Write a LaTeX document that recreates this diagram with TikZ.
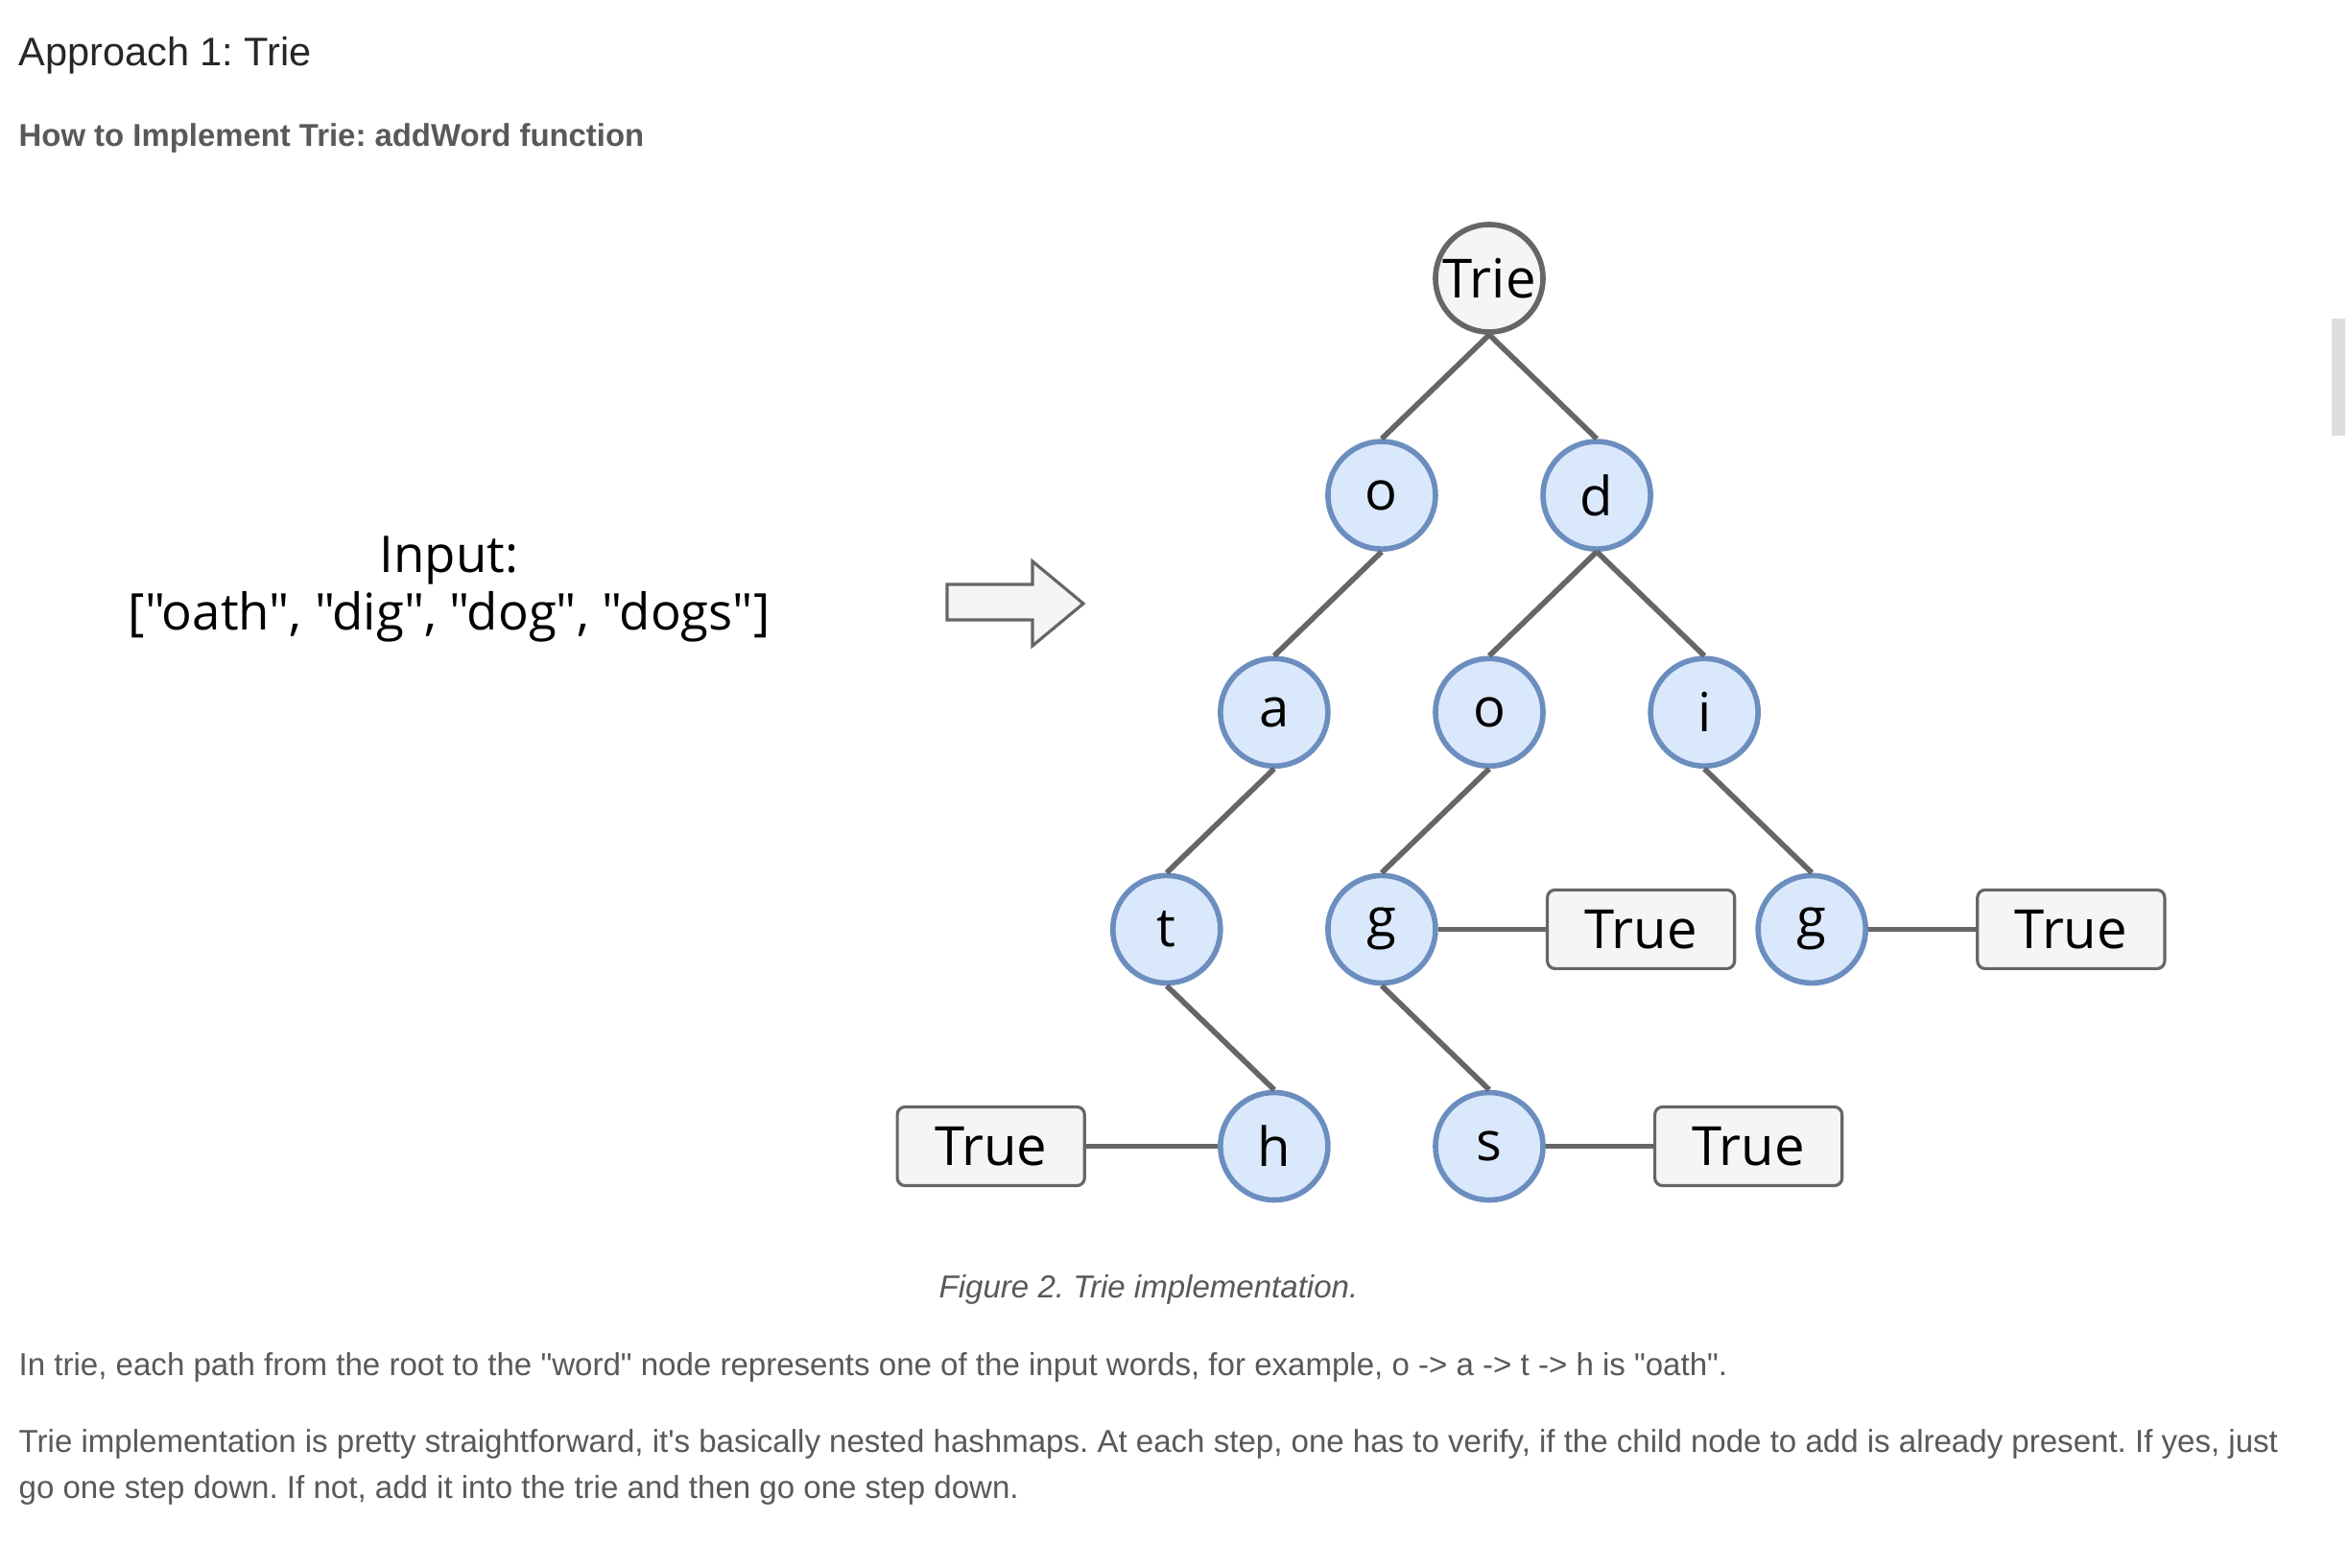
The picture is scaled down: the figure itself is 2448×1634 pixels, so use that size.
\documentclass[tikz,border=0pt]{standalone}
\usepackage{fontspec}
\newfontfamily\pagefont{Liberation Sans}
\newfontfamily\sketchfont{Open Sans}
\usepackage{tikz}
\usetikzlibrary{shapes,arrows,positioning}
\definecolor{nodeblue}{HTML}{DAE8FC}
\definecolor{nodeedge}{HTML}{6C8EBF}
\definecolor{boxgray}{HTML}{F5F5F5}
\definecolor{linegray}{HTML}{666666}
\definecolor{textgray}{HTML}{595959}
\definecolor{scrollgray}{HTML}{DDDDDD}
\tikzstyle{letter} = [draw=nodeedge, fill=nodeblue, circle, line width=1.6pt,
minimum size=1.12cm, inner sep=0pt, font=\sketchfont\fontsize{16}{16}\selectfont]
\tikzstyle{root} = [letter, draw=linegray, fill=boxgray]
\tikzstyle{flag} = [draw=linegray, fill=boxgray, rectangle, rounded corners=0.08cm,
line width=0.9pt, minimum height=0.82cm, minimum width=1.95cm, font=\sketchfont\fontsize{16}{16}\selectfont]
\tikzstyle{link} = [draw=linegray, line width=1.6pt]
\tikzstyle{page} = [anchor=base west, inner sep=0pt, text=textgray, font=\pagefont\frenchspacing\fontsize{9.4}{11}\selectfont]

\begin{document}
\begin{tikzpicture}[x=0.01cm, y=-0.01cm, node distance=2.26cm and 1.12cm, on grid]
		\useasboundingbox[fill=white] (0,0) rectangle (2448,1634);
		\node(title)[page, text=black!85, font=\pagefont\frenchspacing\fontsize{11.8}{13}\selectfont] at (19,69) {Approach 1: Trie};
		\node(subtitle)[page, font=\pagefont\frenchspacing\bfseries\fontsize{9.35}{11}\selectfont] at (19,153) {How to Implement Trie: addWord function};
		
		\node(input)[align=center, font=\sketchfont\fontsize{15}{16.8}\selectfont] at (468,614) {Input:\\{}["oath", "dig", "dog", "dogs"]};
		\filldraw[fill=boxgray, draw=linegray, line width=0.9pt, line join=miter]
		(987,609) -- (1076,609) -- (1076,585) -- (1129,629) -- (1076,673) -- (1076,646) -- (987,646) -- cycle;
		
		\node(trie)[root] at (1552,290) {Trie};
		\node(o)[letter, below left=of trie]{o};
		\node(d)[letter, below right=of trie]{d};
		\node(a)[letter, below left=of o]{a};
		\node(o2)[letter, below left=of d]{o};
		\node(i)[letter, below right=of d]{i};
		\node(t)[letter, below left=of a]{t};
		\node(g)[letter, below left=of o2]{g};
		\node(g2)[letter, below right=of i]{g};
		\node(h)[letter, below right=of t]{h};
		\node(s)[letter, below right=of g]{s};
		
		\node(hend)[flag, left=2.95cm of h]{True};
		\node(gend)[flag, right=2.7cm of g]{True};
		\node(g2end)[flag, right=2.7cm of g2]{True};
		\node(send)[flag, right=2.7cm of s]{True};
		
		\draw[link] (trie.south) -- (o.north);
		\draw[link] (trie.south) -- (d.north);
		\draw[link] (o.south) -- (a.north);
		\draw[link] (a.south) -- (t.north);
		\draw[link] (t.south) -- (h.north);
		\draw[link] (d.south) -- (o2.north);
		\draw[link] (d.south) -- (i.north);
		\draw[link] (o2.south) -- (g.north);
		\draw[link] (g.south) -- (s.north);
		\draw[link] (i.south) -- (g2.north);
		\draw[link] (h) -- (hend);
		\draw[link] (g) -- (gend);
		\draw[link] (g2) -- (g2end);
		\draw[link] (s) -- (send);
		
		\node(caption)[anchor=base, inner sep=0pt, text=textgray, font=\pagefont\frenchspacing\itshape\fontsize{9.4}{11}\selectfont] at (1197,1352) {Figure 2. Trie implementation.};
		\node(para)[page] at (19,1433) {In trie, each path from the root to the "word" node represents one of the input words, for example, o -> a -> t -> h is "oath".};
		\node(parb)[page] at (19,1513) {Trie implementation is pretty straightforward, it's basically nested hashmaps. At each step, one has to verify, if the child node to add is already present. If yes, just};
		\node(parc)[page] at (19,1561) {go one step down. If not, add it into the trie and then go one step down.};
		
		\fill[scrollgray] (2430,332) rectangle (2444,454);
		\end{tikzpicture}
\end{document}
